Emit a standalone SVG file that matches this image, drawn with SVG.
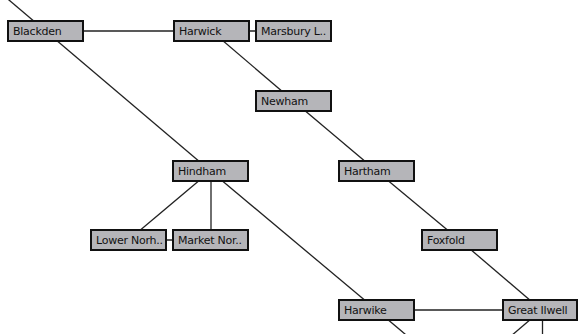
<svg xmlns="http://www.w3.org/2000/svg" width="578" height="334" viewBox="0 0 578 334">
<style>
.box{fill:#b5b5b9;stroke:#111;stroke-width:2}
.lbl{font-family:"DejaVu Sans",Verdana,sans-serif;font-size:11px;letter-spacing:-0.25px;fill:#111}
.edge{stroke:#222;stroke-width:1.3;fill:none}
</style>
<rect width="578" height="334" fill="#fff"/>
<g id="connectors">
<line class="edge" x1="-37" y1="-39" x2="45.5" y2="31"/>
<line class="edge" x1="45.5" y1="31" x2="210.5" y2="171"/>
<line class="edge" x1="45.5" y1="31" x2="211.5" y2="31"/>
<line class="edge" x1="211.5" y1="31" x2="293.5" y2="31"/>
<line class="edge" x1="211.5" y1="31" x2="293.5" y2="101"/>
<line class="edge" x1="293.5" y1="101" x2="376.5" y2="171"/>
<line class="edge" x1="376.5" y1="171" x2="459.5" y2="240"/>
<line class="edge" x1="459.5" y1="240" x2="541.5" y2="310"/>
<line class="edge" x1="210.5" y1="171" x2="128.5" y2="240"/>
<line class="edge" x1="211" y1="171" x2="211" y2="240"/>
<line class="edge" x1="128.5" y1="240" x2="211" y2="240"/>
<line class="edge" x1="210.5" y1="171" x2="376.5" y2="310"/>
<line class="edge" x1="376.5" y1="310" x2="459.5" y2="380"/>
<line class="edge" x1="376.5" y1="310" x2="541.5" y2="310"/>
<line class="edge" x1="541.5" y1="310" x2="459.5" y2="380"/>
<line class="edge" x1="542.5" y1="310" x2="542.5" y2="380"/>
</g>
<g id="blackden"><rect class="box" x="8" y="21" width="75" height="20"/><text class="lbl" x="13" y="35">Blackden</text></g>
<g id="harwick"><rect class="box" x="174" y="21" width="75" height="20"/><text class="lbl" x="179" y="35">Harwick</text></g>
<g id="marsbury"><rect class="box" x="256" y="21" width="75" height="20"/><text class="lbl" x="261" y="35">Marsbury L..</text></g>
<g id="newham"><rect class="box" x="256" y="91" width="75" height="20"/><text class="lbl" x="261" y="105">Newham</text></g>
<g id="hindham"><rect class="box" x="173" y="161" width="75" height="20"/><text class="lbl" x="178" y="175">Hindham</text></g>
<g id="hartham"><rect class="box" x="339" y="161" width="75" height="20"/><text class="lbl" x="344" y="175">Hartham</text></g>
<g id="lowernorh"><rect class="box" x="91" y="230" width="75" height="20"/><text class="lbl" x="96" y="244">Lower Norh..</text></g>
<g id="marketnor"><rect class="box" x="173" y="230" width="75" height="20"/><text class="lbl" x="178" y="244">Market Nor..</text></g>
<g id="foxfold"><rect class="box" x="422" y="230" width="75" height="20"/><text class="lbl" x="427" y="244">Foxfold</text></g>
<g id="harwike"><rect class="box" x="339" y="300" width="75" height="20"/><text class="lbl" x="344" y="314">Harwike</text></g>
<g id="greatilwell"><rect class="box" x="503" y="300" width="74" height="20"/><text class="lbl" x="508" y="314">Great Ilwell</text></g>
</svg>
